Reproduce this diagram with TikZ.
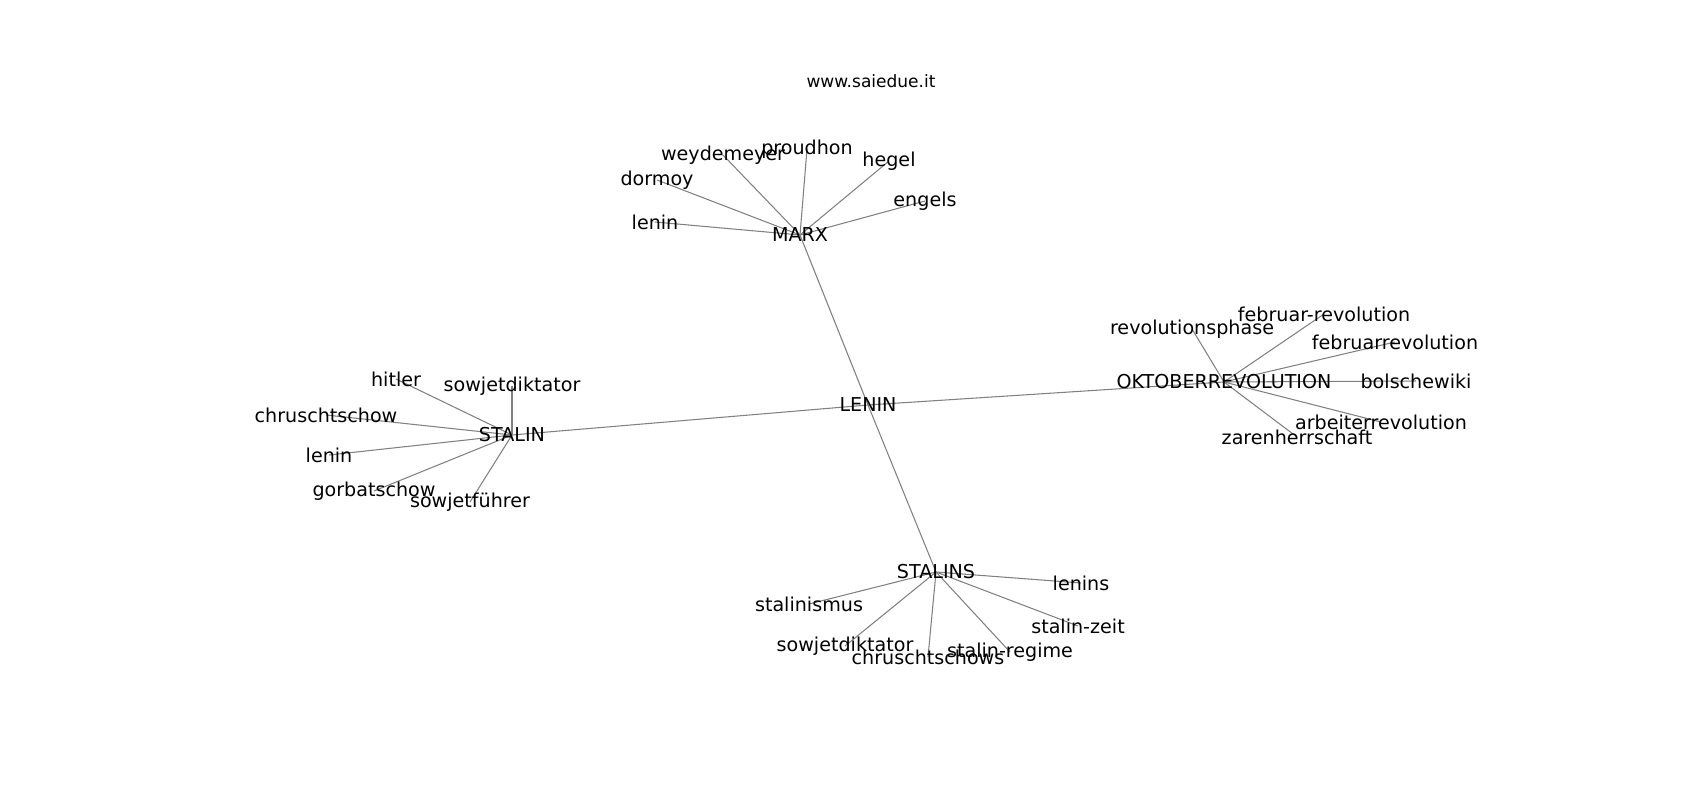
\documentclass[tikz,border=0pt]{standalone}
\usepackage{fontspec}
\setmainfont{DejaVu Sans}
\usetikzlibrary{backgrounds}

\tikzset{
  word/.style={inner sep=0pt, font=\fontsize{13.6}{16}\selectfont},
  link/.style={draw=black!50, line width=0.75pt},
}

\begin{document}
\begin{tikzpicture}[x=0.025cm, y=-0.025cm]
        \useasboundingbox (0,0) rectangle (1700,800);
        \node[inner sep=0pt, font=\fontsize{12.1}{15}\selectfont] (site) at (871,81) {www.saiedue.it};

        % hubs
        \node[word] (lenin) at (868,405) {LENIN};
        \node[word] (marx) at (800,235) {MARX};
        \node[word] (stalin) at (512,435) {STALIN};
        \node[word] (oktober) at (1224,382) {OKTOBERREVOLUTION};
        \node[word] (stalins) at (936,572) {STALINS};

        % around marx
        \node[word] (mlenin) at (655,222) {lenin};
        \node[word] (dormoy) at (657,180) {dormoy};
        \node[word] (weydemeyer) at (723,155) {weydemeyer};
        \node[word] (proudhon) at (807,149) {proudhon};
        \node[word] (hegel) at (889,161) {hegel};
        \node[word] (engels) at (925,201) {engels};

        % around oktoberrevolution
        \node[word] (phase) at (1192,329) {revolutionsphase};
        \node[word] (februar) at (1324,314) {februar-revolution};
        \node[word] (februarr) at (1395,342) {februarrevolution};
        \node[word] (bolschewiki) at (1416,381) {bolschewiki};
        \node[word] (arbeiter) at (1381,422) {arbeiterrevolution};
        \node[word] (zaren) at (1297,437) {zarenherrschaft};

        % around stalin
        \node[word] (hitler) at (396,379) {hitler};
        \node[word] (sdiktator) at (512,386) {sowjetdiktator};
        \node[word] (chruschtschow) at (326,415) {chruschtschow};
        \node[word] (slenin) at (329,455) {lenin};
        \node[word] (gorbatschow) at (374,491) {gorbatschow};
        \node[word] (fuehrer) at (470,502) {sowjetführer};

        % around stalins
        \node[word] (lenins) at (1081,583) {lenins};
        \node[word] (stalinismus) at (809,604) {stalinismus};
        \node[word] (zeit) at (1078,626) {stalin-zeit};
        \node[word] (tdiktator) at (845,646) {sowjetdiktator};
        \node[word] (chruschtschows) at (928,657) {chruschtschows};
        \node[word] (regime) at (1010,652) {stalin-regime};

        \begin{scope}[on background layer]
        \draw[link] (marx.center) -- (lenin.center) -- (stalins.center);
        \draw[link] (stalin.center) -- (lenin.center) -- (oktober.center);

        \draw[link] (marx.center) -- (mlenin.center);
        \draw[link] (marx.center) -- (dormoy.center);
        \draw[link] (marx.center) -- (weydemeyer.center);
        \draw[link] (marx.center) -- (proudhon.center);
        \draw[link] (marx.center) -- (hegel.center);
        \draw[link] (marx.center) -- (engels.center);

        \draw[link] (oktober.center) -- (phase.center);
        \draw[link] (oktober.center) -- (februar.center);
        \draw[link] (oktober.center) -- (februarr.center);
        \draw[link] (oktober.center) -- (bolschewiki.center);
        \draw[link] (oktober.center) -- (arbeiter.center);
        \draw[link] (oktober.center) -- (zaren.center);

        \draw[link] (stalin.center) -- (hitler.center);
        \draw[link] (stalin.center) -- (sdiktator.center);
        \draw[link] (stalin.center) -- (chruschtschow.center);
        \draw[link] (stalin.center) -- (slenin.center);
        \draw[link] (stalin.center) -- (gorbatschow.center);
        \draw[link] (stalin.center) -- (fuehrer.center);

        \draw[link] (stalins.center) -- (lenins.center);
        \draw[link] (stalins.center) -- (stalinismus.center);
        \draw[link] (stalins.center) -- (zeit.center);
        \draw[link] (stalins.center) -- (tdiktator.center);
        \draw[link] (stalins.center) -- (chruschtschows.center);
        \draw[link] (stalins.center) -- (regime.center);
        \end{scope}
\end{tikzpicture}
\end{document}
